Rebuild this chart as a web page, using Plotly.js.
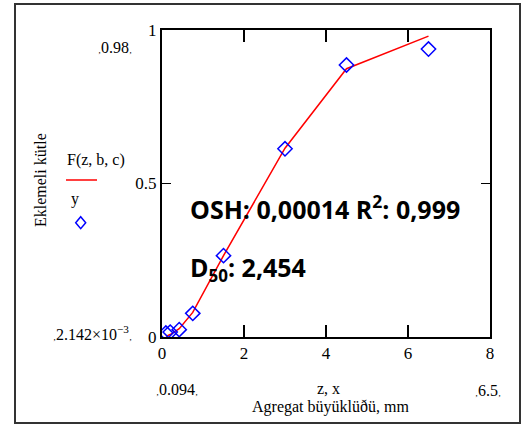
<!DOCTYPE html>
<html>
<head>
<meta charset="utf-8">
<script src="https://cdn.plot.ly/plotly-3.0.1.min.js"></script>
<style>
html,body{margin:0;padding:0;background:#fff;}
#chart{width:522px;height:425px;}
</style>
</head>
<body>
<div id="chart"></div>
<script>
// Measured sample points (y) and fitted curve F(z,b,c)
const xData = [0.094, 0.2, 0.42, 0.75, 1.5, 3, 4.5, 6.5];
const yData = [0.013, 0.016, 0.024, 0.077, 0.265, 0.613, 0.886, 0.938];
const zFit  = [0.094, 0.2, 0.42, 0.75, 1.5, 3, 4.5, 6.5];
const fFit  = [0.00214, 0.008, 0.027, 0.08, 0.265, 0.615, 0.874, 0.98];
const xTicks = [0, 2, 4, 6, 8];
const yTicks = [0, 0.5, 1];
const xTickText = ["0", "2", "4", "6", "8"];
const yTickText = ["0", "0.5", "1"];

const L = 162, R = 32, T = 30, B = 88, W = 522, H = 425;
const pw = W - L - R, ph = H - T - B;
const px = p => (p - L) / pw;
const py = p => (H - B - p) / ph;

const serif = "Liberation Serif, Times New Roman, serif";
const bold = "Open Sans, Arial, sans-serif";

const traces = [
  {x: zFit, y: fFit, type: "scatter", mode: "lines", line: {color: "#ff0000", width: 1.5}, hoverinfo: "skip", showlegend: false},
  {x: xData, y: yData, type: "scatter", mode: "markers",
   marker: {symbol: "diamond-open", size: 11, color: "#0000ff", line: {width: 1.5, color: "#0000ff"}}, showlegend: false}
];

function ann(text, x, y, opts) {
  return Object.assign({text: text, x: x, y: y, xref: "paper", yref: "paper", showarrow: false,
    xanchor: "center", yanchor: "middle", font: {family: serif, size: 16, color: "#000"}}, opts || {});
}
const mk = '<span style="font-size:9px">‚</span>';
const lim = t => mk + t + mk;

const layout = {
  width: W, height: H,
  margin: {l: L, r: R, t: T, b: B},
  paper_bgcolor: "#fff", plot_bgcolor: "#fff",
  showlegend: false,
  font: {family: serif, size: 16, color: "#000"},
  xaxis: {range: [0, 8], tickvals: xTicks, ticktext: xTickText, ticks: "inside", ticklen: 12, tickwidth: 1.5,
    tickcolor: "#000", showline: true, linecolor: "#000", linewidth: 2, mirror: "ticks", showgrid: false,
    zeroline: false, tickfont: {family: serif, size: 17, color: "#000"}},
  yaxis: {range: [0, 1], tickvals: yTicks, ticktext: yTickText, ticks: "inside", ticklen: 9, tickwidth: 1.5,
    tickcolor: "#000", showline: true, linecolor: "#000", linewidth: 2, mirror: "ticks", showgrid: false,
    zeroline: false, tickfont: {family: serif, size: 17, color: "#000"}},
  shapes: [
    {type: "rect", xref: "paper", yref: "paper", x0: px(15), x1: px(520), y0: py(423), y1: py(4),
     line: {color: "#333", width: 2}, layer: "below"},
    {type: "line", xref: "paper", yref: "paper", x0: px(66), x1: px(97), y0: py(180), y1: py(180),
     line: {color: "#ff0000", width: 1.5}},
    {type: "path", xref: "paper", yref: "paper",
     path: "M " + px(80.7) + " " + py(216.7) + " L " + px(85.7) + " " + py(222.7) + " L " + px(80.7) + " " + py(228.7) +
           " L " + px(75.7) + " " + py(222.7) + " Z",
     line: {color: "#0000ff", width: 1.5}}
  ],
  annotations: [
    ann("F(z, b, c)", px(95.5), py(160)),
    ann("y", px(69), py(199), {xanchor: "left"}),
    ann(lim("0.98"), px(115), py(47)),
    ann(lim("2.142×10<sup>−3</sup>"), px(92), py(333)),
    ann(lim("0.094"), px(177), py(389)),
    ann(lim("6.5"), px(488), py(390)),
    ann("z, x", px(328.5), py(388)),
    ann("Agregat büyüklüðü, mm", px(330), py(407)),
    ann("Eklemeli kütle", px(40), py(180), {textangle: -90}),
    ann("<b>OSH: 0,00014 R<sup>2</sup>: 0,999</b>", px(188), py(207), {xanchor: "left", font: {family: bold, size: 25, color: "#000"}}),
    ann('<b>D<sub><span style="font-size:17px">50</span></sub>: 2,454</b>', px(188), py(268), {xanchor: "left", font: {family: bold, size: 25, color: "#000"}})
  ]
};

Plotly.newPlot("chart", traces, layout, {displayModeBar: false, staticPlot: true});
</script>
</body>
</html>
